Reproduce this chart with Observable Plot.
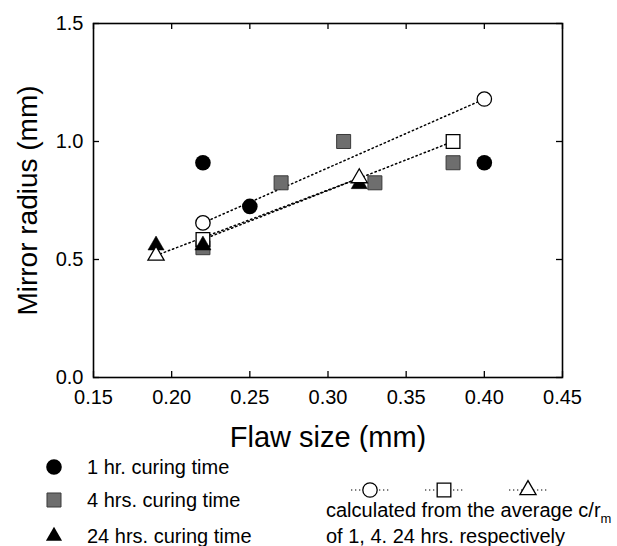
<!DOCTYPE html>
<html>
<head>
<meta charset="utf-8">
<script src="https://cdn.jsdelivr.net/npm/d3@7"></script>
<script src="https://cdn.jsdelivr.net/npm/@observablehq/plot@0.6"></script>
<style>
  html, body { margin: 0; padding: 0; background: white; }
  #wrap { width: 617px; height: 546px; position: relative; overflow: hidden; font-family: "Liberation Sans", Arial, sans-serif; }
  #legend { display: block; }
</style>
</head>
<body>
<div id="wrap"></div>
<script>
// ---- data ----
const xTicks = [0.15, 0.20, 0.25, 0.30, 0.35, 0.40, 0.45];
const yTicks = [0.0, 0.5, 1.0, 1.5];

// measured points
const hr1X = [0.22, 0.25, 0.40];
const hr1Y = [0.91, 0.725, 0.91];
const hr4X = [0.22, 0.27, 0.31, 0.33, 0.38];
const hr4Y = [0.55, 0.825, 1.00, 0.825, 0.91];
const hr24X = [0.19, 0.22, 0.32];
const hr24Y = [0.56, 0.56, 0.82];

// calculated from average c/r_m
const calc1X = [0.22, 0.40];
const calc1Y = [0.655, 1.18];
const calc4X = [0.22, 0.38];
const calc4Y = [0.585, 1.00];
const calc24X = [0.19, 0.32];
const calc24Y = [0.517, 0.845];

const legendLeft = ["1 hr. curing time", "4 hrs. curing time", "24 hrs. curing time"];
const legendRight1 = "calculated from the average c/r";
const legendRight1Sub = "m";
const legendRight2 = "of 1, 4. 24 hrs. respectively";
const xLabel = "Flaw size (mm)";
const yLabel = "Mirror radius (mm)";

const rows = (xs, ys) => xs.map((x, i) => ({x, y: ys[i]}));
const hr1 = rows(hr1X, hr1Y), hr4 = rows(hr4X, hr4Y), hr24 = rows(hr24X, hr24Y);
const c1 = rows(calc1X, calc1Y), c4 = rows(calc4X, calc4Y), c24 = rows(calc24X, calc24Y);

const dotted = {stroke: "black", strokeWidth: 1.5, strokeDasharray: "1.4,3"};
const grayFill = "#6e6e6e", grayStroke = "#3a3a3a";

const W = 617, H = 452, mL = 93, mR = 55, mT = 23, mB = 75;
const innerW = W - mL - mR, innerH = H - mT - mB, tickLen = 6;
const tickStyle = {stroke: "black", strokeWidth: 1.3};

const chart = Plot.plot({
  width: W,
  height: H,
  marginLeft: mL,
  marginRight: mR,
  marginTop: mT,
  marginBottom: mB,
  style: {fontFamily: "'Liberation Sans', Arial, sans-serif", fontSize: "20px", background: "white", color: "black"},
  x: {domain: [0.15, 0.45]},
  y: {domain: [0, 1.5]},
  marks: [
    Plot.line(c1, {x: "x", y: "y", ...dotted}),
    Plot.line(c4, {x: "x", y: "y", ...dotted}),
    Plot.line(c24, {x: "x", y: "y", ...dotted}),
    Plot.dot(hr4, {x: "x", y: "y", symbol: "square", r: 7.9, fill: grayFill, stroke: grayStroke, strokeWidth: 1}),
    Plot.dot(c4, {x: "x", y: "y", symbol: "square", r: 7.7, fill: "white", stroke: "black", strokeWidth: 1.3}),
    Plot.dot(hr24, {x: "x", y: "y", symbol: "triangle", r: 6, fill: "black", stroke: "black", strokeWidth: 0.5}),
    Plot.dot(hr1, {x: "x", y: "y", symbol: "circle", r: 7.8, fill: "black"}),
    Plot.dot(c1, {x: "x", y: "y", symbol: "circle", r: 7.2, fill: "white", stroke: "black", strokeWidth: 1.3}),
    Plot.dot(c24, {x: "x", y: "y", symbol: "triangle", r: 6, fill: "white", stroke: "black", strokeWidth: 1.3}),
    // inward tick marks on all four sides
    Plot.tickX(xTicks, {x: d => d, insetTop: innerH - tickLen, ...tickStyle}),
    Plot.tickX(xTicks, {x: d => d, insetBottom: innerH - tickLen, ...tickStyle}),
    Plot.tickY(yTicks, {y: d => d, insetRight: innerW - tickLen, ...tickStyle}),
    Plot.tickY(yTicks, {y: d => d, insetLeft: innerW - tickLen, ...tickStyle}),
    Plot.frame({stroke: "black", strokeWidth: 1.6}),
    // tick labels
    Plot.axisX(xTicks, {anchor: "bottom", tickSize: 0, tickPadding: 12, tickFormat: d => d.toFixed(2), label: null}),
    Plot.axisY(yTicks, {anchor: "left", tickSize: 0, tickPadding: 10, tickFormat: d => d.toFixed(1), label: null}),
    // axis titles
    Plot.text([xLabel], {frameAnchor: "bottom", dy: 60, fontSize: 29, textAnchor: "middle", lineAnchor: "middle", fill: "black"}),
    Plot.text([yLabel], {frameAnchor: "left", dx: -65, rotate: -90, fontSize: 28, textAnchor: "middle", lineAnchor: "middle", fill: "black"})
  ]
});
document.getElementById("wrap").appendChild(chart);

// ---- legend (below the plot SVG) ----
const lg = d3.create("svg").attr("id", "legend").attr("width", 617).attr("height", 94)
  .style("font-family", "'Liberation Sans', Arial, sans-serif").style("font-size", "20px");
const sym = (type, r) => d3.symbol(type, Math.PI * r * r)();
const leftX = 54, textX = 87, rowY = [15, 48, 84];
lg.append("path").attr("d", sym(d3.symbolCircle, 7.8)).attr("transform", `translate(${leftX},${rowY[0]})`).attr("fill", "black");
lg.append("path").attr("d", sym(d3.symbolSquare, 7.9)).attr("transform", `translate(${leftX},${rowY[1]})`).attr("fill", grayFill).attr("stroke", grayStroke);
lg.append("path").attr("d", sym(d3.symbolTriangle, 6)).attr("transform", `translate(${leftX},${rowY[2]})`).attr("fill", "black");
legendLeft.forEach((t, i) => {
  lg.append("text").attr("x", textX).attr("y", rowY[i]).attr("dy", "0.35em").text(t);
});
const rSymY = 38;
const rSyms = [[370, d3.symbolCircle, 7.2], [444, d3.symbolSquare, 7.7], [528, d3.symbolTriangle, 6]];
rSyms.forEach(([cx, type, r]) => {
  lg.append("line").attr("x1", cx - 19).attr("x2", cx + 19).attr("y1", rSymY).attr("y2", rSymY)
    .attr("stroke", "black").attr("stroke-width", 1.2).attr("stroke-dasharray", "1.3,2.7");
  lg.append("path").attr("d", sym(type, r)).attr("transform", `translate(${cx},${rSymY})`)
    .attr("fill", "white").attr("stroke", "black").attr("stroke-width", 1.3);
});
const t1 = lg.append("text").attr("x", 326).attr("y", 58).attr("dy", "0.35em");
t1.append("tspan").text(legendRight1);
t1.append("tspan").attr("dy", "6").attr("font-size", "13px").text(legendRight1Sub);
lg.append("text").attr("x", 326).attr("y", 84).attr("dy", "0.35em").text(legendRight2);
document.getElementById("wrap").appendChild(lg.node());
</script>
</body>
</html>
